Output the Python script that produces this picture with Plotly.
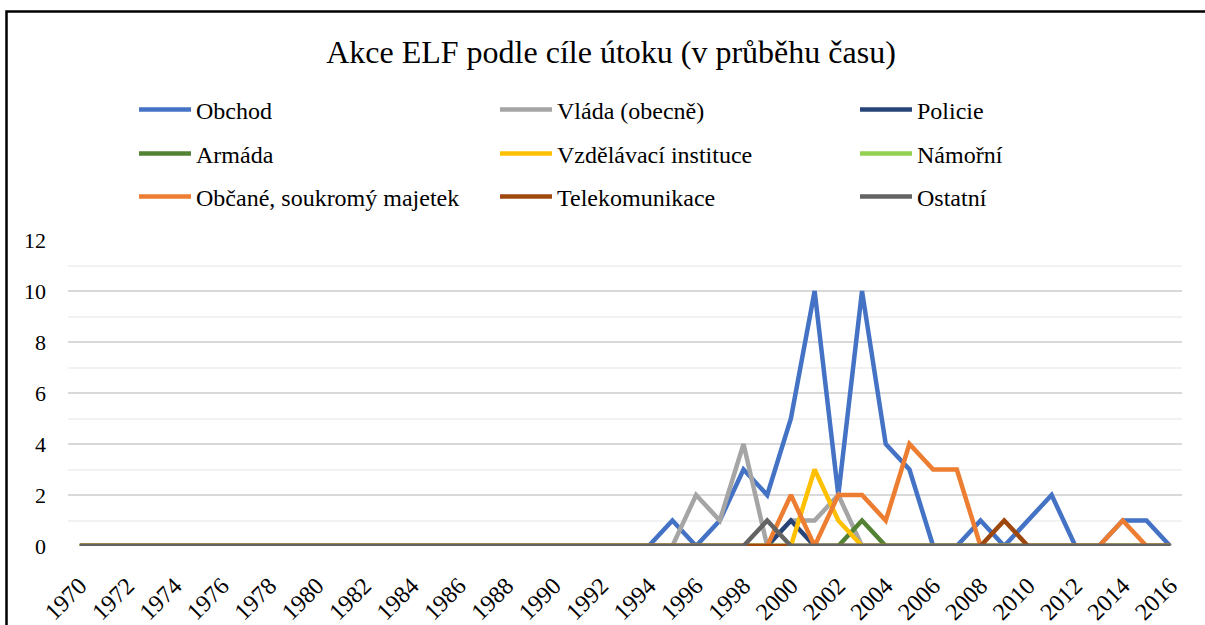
import plotly.graph_objects as go

years = list(range(1970, 2017))
tick_years = list(range(1970, 2017, 2))

Z24 = [0] * 24  # 1970-1993

obchod = Z24 + [0, 1, 0, 1, 3, 2, 5, 10, 2, 10, 4, 3, 0, 0, 1, 0, 1, 2, 0, 0, 1, 1, 0]
vlada = Z24 + [0, 0, 2, 1, 4, 0, 1, 1, 2, 0, 0, 0, 0, 0, 0, 0, 0, 0, 0, 0, 0, 0, 0]
policie = Z24 + [0, 0, 0, 0, 0, 0, 1, 0, 0, 0, 0, 0, 0, 0, 0, 0, 0, 0, 0, 0, 0, 0, 0]
armada = Z24 + [0, 0, 0, 0, 0, 0, 0, 0, 0, 1, 0, 0, 0, 0, 0, 0, 0, 0, 0, 0, 0, 0, 0]
vzdelavaci = Z24 + [0, 0, 0, 0, 0, 0, 0, 3, 1, 0, 0, 0, 0, 0, 0, 0, 0, 0, 0, 0, 0, 0, 0]
namorni = Z24 + [0, 0, 0, 0, 0, 0, 0, 0, 0, 0, 0, 0, 0, 0, 0, 0, 0, 0, 0, 0, 0, 0, 0]
obcane = Z24 + [0, 0, 0, 0, 0, 0, 2, 0, 2, 2, 1, 4, 3, 3, 0, 0, 0, 0, 0, 0, 1, 0, 0]
telekom = Z24 + [0, 0, 0, 0, 0, 0, 0, 0, 0, 0, 0, 0, 0, 0, 0, 1, 0, 0, 0, 0, 0, 0, 0]
ostatni = Z24 + [0, 0, 0, 0, 0, 1, 0, 0, 0, 0, 0, 0, 0, 0, 0, 0, 0, 0, 0, 0, 0, 0, 0]

series_names = ["Obchod", "Vláda (obecně)", "Policie",
                "Armáda", "Vzdělávací instituce", "Námořní",
                "Občané, soukromý majetek", "Telekomunikace", "Ostatní"]
series_values = [obchod, vlada, policie, armada, vzdelavaci, namorni, obcane, telekom, ostatni]
series_colors = ["#4472C4", "#A5A5A5", "#264478",
                 "#548235", "#FFC000", "#92D050",
                 "#ED7D31", "#9E480E", "#636363"]

W, H = 1205, 625
L, R, T, B = 68, 23, 240, 79
PW, PH = W - L - R, H - T - B

def px_x(p):
    return (p - L) / PW

def px_y(p):
    return (H - B - p) / PH

FONT = "Liberation Serif, Times New Roman, serif"

fig = go.Figure()

col_x = [134, 495, 855]
row_y = [110, 154, 197]

legends = {}
for i, (name, vals, col) in enumerate(zip(series_names, series_values, series_colors)):
    lname = "legend" if i == 0 else f"legend{i+1}"
    fig.add_trace(go.Scatter(
        x=years, y=vals, mode="lines", name=name,
        line=dict(color=col, width=4.5),
        legend=lname,
    ))
    r, c = divmod(i, 3)
    legends[lname] = dict(
        x=px_x(col_x[c]), y=px_y(row_y[r]), xanchor="left", yanchor="middle",
        orientation="h", bgcolor="rgba(0,0,0,0)", borderwidth=0,
        font=dict(family=FONT, size=24, color="#000000"),
        itemwidth=52,
    )

fig.update_layout(**legends)

fig.update_layout(
    width=W, height=H,
    margin=dict(l=L, r=R, t=T, b=B, pad=0, autoexpand=False),
    paper_bgcolor="white", plot_bgcolor="white",
    title=dict(
        text="Akce ELF podle cíle útoku (v průběhu času)",
        x=611 / W, xref="container", xanchor="center",
        y=1 - 52 / H, yref="container", yanchor="middle",
        font=dict(family=FONT, size=32, color="#000000"),
    ),
    showlegend=True,
    xaxis=dict(
        range=[1969.5, 2016.5], automargin=False,
        tickmode="array", tickvals=tick_years, ticktext=[str(y) for y in tick_years],
        tickangle=-45, showgrid=False, zeroline=False, showline=False,
        ticks="", tickfont=dict(family=FONT, size=24, color="#000000"),
        ticklabelstandoff=20,
        fixedrange=True,
    ),
    yaxis=dict(
        range=[0, 12], tickmode="linear", tick0=0, dtick=2, automargin=False,
        showgrid=True, gridcolor="#D9D9D9", gridwidth=1.5,
        minor=dict(dtick=1, showgrid=True, gridcolor="#F2F2F2", gridwidth=1.5),
        zeroline=False, showline=False, ticks="",
        tickfont=dict(family=FONT, size=22, color="#000000"),
        ticklabelstandoff=21,
        fixedrange=True,
    ),
)

fig.add_shape(
    type="rect", xref="paper", yref="paper",
    x0=px_x(6.5), x1=px_x(1230), y0=px_y(11.5), y1=px_y(660),
    line=dict(color="black", width=2.5), fillcolor="rgba(0,0,0,0)", layer="above",
)

fig.write_html("out.html", config={"displayModeBar": False},
               post_script="document.body.style.margin='0px';")
